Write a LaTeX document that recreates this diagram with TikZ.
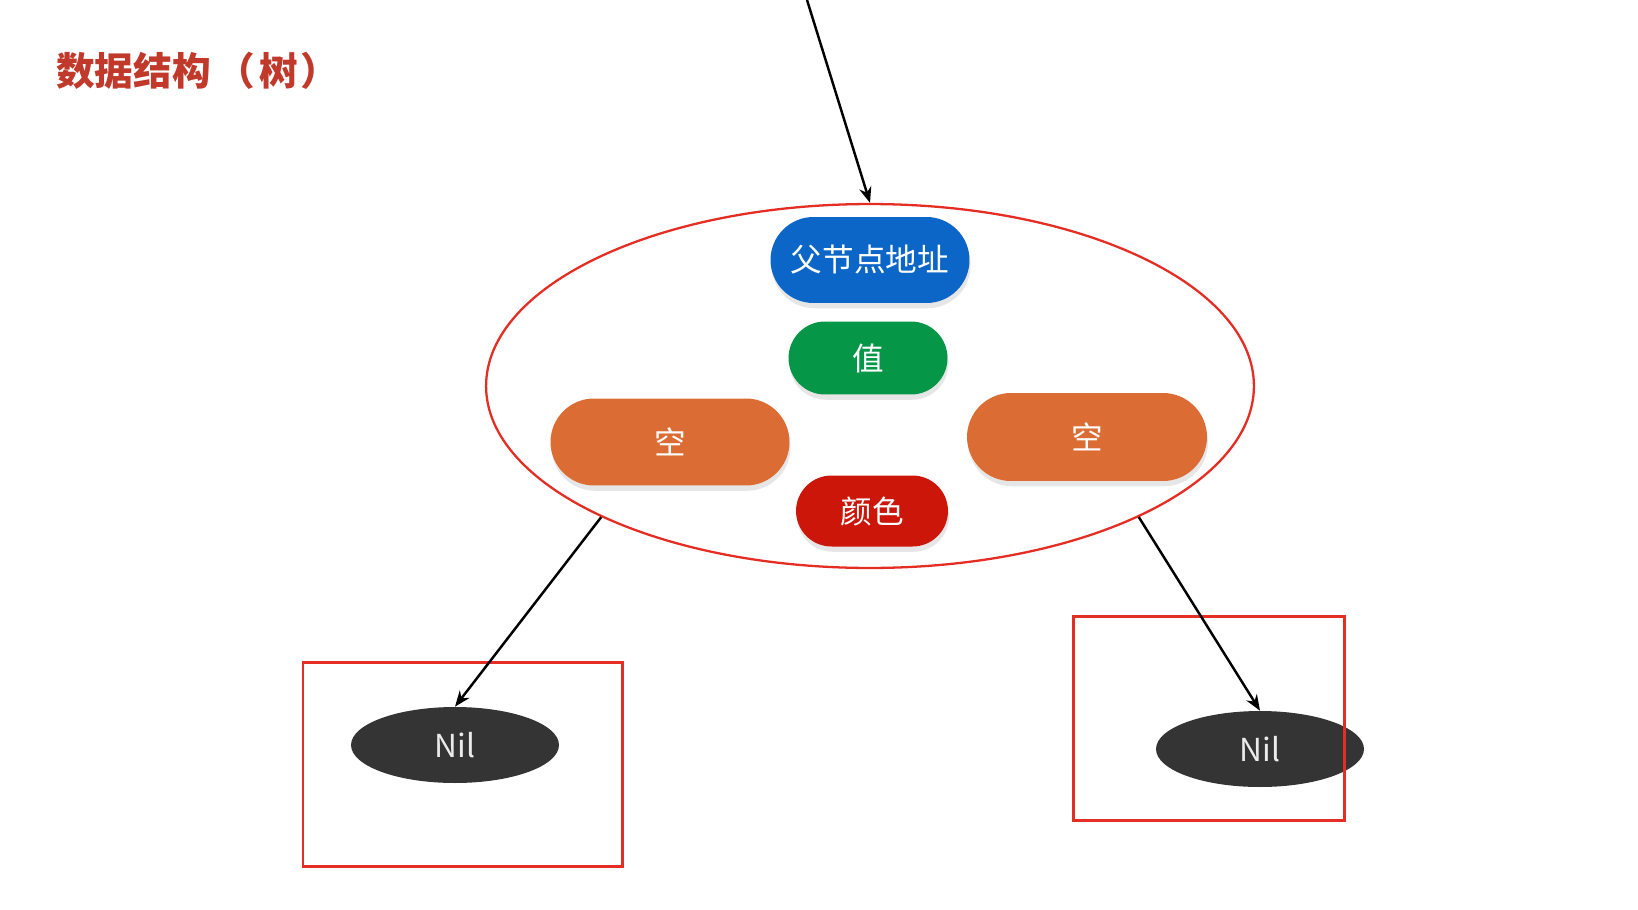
\documentclass[tikz,border=0pt]{standalone}
\usepackage{fontspec}
\setmainfont{Noto Sans CJK SC}
\usetikzlibrary{shapes.geometric,shapes.misc,arrows.meta,shadows}

\definecolor{titlered}{RGB}{192,57,43}
\definecolor{linered}{RGB}{228,45,35}
\definecolor{pblue}{RGB}{12,102,200}
\definecolor{pgreen}{RGB}{6,150,72}
\definecolor{porange}{RGB}{219,108,52}
\definecolor{pred}{RGB}{204,22,10}
\definecolor{nilgray}{RGB}{52,52,52}

\tikzset{
  pill/.style={rounded rectangle, text=white, inner sep=0pt,
    font=\fontsize{18}{20}\selectfont,
    drop shadow={shadow xshift=0.6pt, shadow yshift=-3pt, opacity=0.2}},
  nil/.style={ellipse, fill=nilgray, text=black!8, inner sep=0pt,
    minimum width=4.16cm, minimum height=1.52cm,
    font=\fontsize{18}{20}\selectfont},
  link/.style={-{Stealth[length=9pt,width=7pt]}, line width=1.4pt},
  frame/.style={draw=linered, line width=1.7pt},
}

\begin{document}
\begin{tikzpicture}[x=0.02cm, y=-0.02cm]
  \useasboundingbox (0,0) rectangle (1638,909);

  % title
  \node[anchor=west, text=titlered, font=\fontsize{22}{24}\selectfont\bfseries]
    (title) at (50,71) {数据结构\hspace{3pt}（\hspace{3pt}树\hspace{1pt}）};

  % node with its fields
  \node[ellipse, draw=linered, line width=1.3pt, inner sep=0pt,
    minimum width=15.36cm, minimum height=7.28cm] (big) at (870,386) {};
  \node[pill, fill=pblue, minimum width=3.98cm, minimum height=1.72cm] (parent) at (870,260) {父节点地址};
  \node[pill, fill=pgreen, minimum width=3.18cm, minimum height=1.46cm] (value) at (868,358) {值};
  \node[pill, fill=porange, minimum width=4.78cm, minimum height=1.74cm] (left) at (670,442) {空};
  \node[pill, fill=porange, minimum width=4.8cm, minimum height=1.76cm] (right) at (1087,437) {空};
  \node[pill, fill=pred, minimum width=3.04cm, minimum height=1.42cm] (color) at (872,511) {颜色};

  % leaves
  \node[nil] (nilL) at (455,745) {Nil};
  \node[nil] (nilR) at (1260,749) {Nil};
  \draw[frame] (303,662) rectangle (622,866);
  \draw[frame] (1073,616) rectangle (1344,820);

  % links
  \coordinate (top) at (807,0);
  \draw[link] (top) -- (big.north);
  \draw[link] (big.206) -- (nilL.north);
  \draw[link] (big.334) -- (nilR.north);
\end{tikzpicture}
\end{document}
